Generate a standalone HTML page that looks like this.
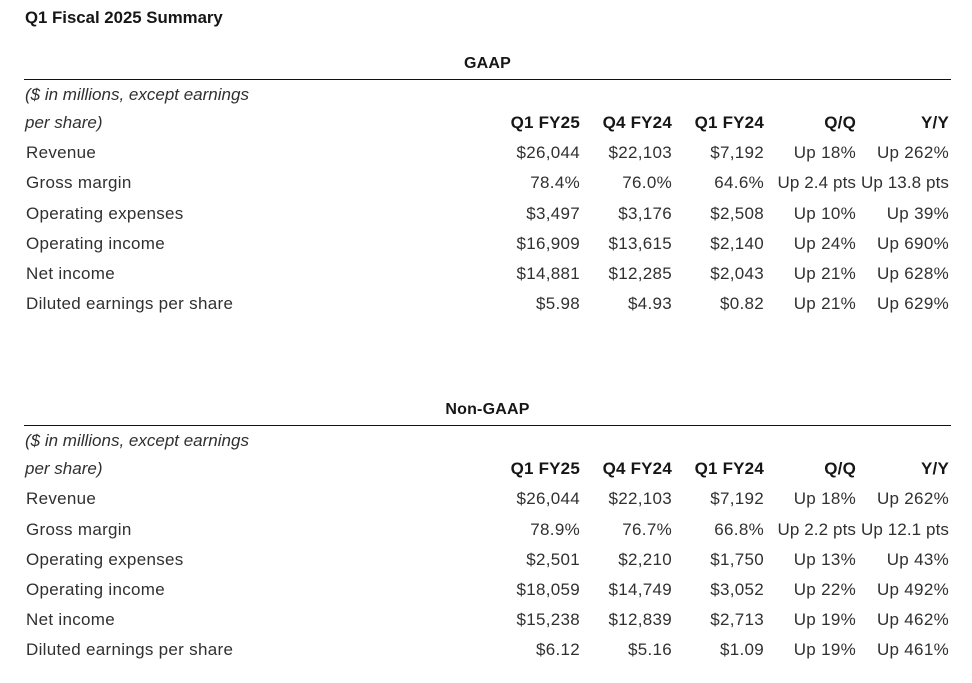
<!DOCTYPE html>
<html>
<head>
<meta charset="utf-8">
<style>
html,body{margin:0;padding:0;background:#fff;}
body{width:972px;height:683px;position:relative;overflow:hidden;font-family:"Liberation Sans",sans-serif;color:#303030;}
.t{position:absolute;white-space:nowrap;line-height:20px;font-size:17px;letter-spacing:0.3px;}
.b{font-weight:bold;color:#161616;letter-spacing:0.2px;}
.i{font-style:italic;letter-spacing:0;}
.r{text-align:right;}
.line{position:absolute;left:24px;width:927px;height:1px;background:#111;}
.c1{right:392px;} .c2{right:300px;} .c3{right:208px;} .c4{right:116px;} .c5{right:23px;}
</style>
</head>
<body>
<div class="t b" style="left:25px;top:8px;font-size:16.8px;letter-spacing:0;">Q1 Fiscal 2025 Summary</div>

<!-- GAAP -->
<div class="t b" style="left:0;width:975px;text-align:center;top:54px;font-size:16px;">GAAP</div>
<div class="line" style="top:79px;"></div>
<div class="t i" style="left:25px;top:85px;">($ in millions, except earnings</div>
<div class="t i" style="left:25px;top:113px;">per share)</div>
<div class="t b c1" style="top:113px;">Q1 FY25</div>
<div class="t b c2" style="top:113px;">Q4 FY24</div>
<div class="t b c3" style="top:113px;">Q1 FY24</div>
<div class="t b c4" style="top:113px;">Q/Q</div>
<div class="t b c5" style="top:113px;">Y/Y</div>

<div class="t" style="left:26px;top:143px;">Revenue</div>
<div class="t c1" style="top:143px;">$26,044</div>
<div class="t c2" style="top:143px;">$22,103</div>
<div class="t c3" style="top:143px;">$7,192</div>
<div class="t c4" style="top:143px;">Up 18%</div>
<div class="t c5" style="top:143px;">Up 262%</div>

<div class="t" style="left:26px;top:173px;">Gross margin</div>
<div class="t c1" style="top:173px;">78.4%</div>
<div class="t c2" style="top:173px;">76.0%</div>
<div class="t c3" style="top:173px;">64.6%</div>
<div class="t c4" style="top:173px;letter-spacing:0.1px;">Up 2.4 pts</div>
<div class="t c5" style="top:173px;letter-spacing:0.1px;">Up 13.8 pts</div>

<div class="t" style="left:26px;top:204px;">Operating expenses</div>
<div class="t c1" style="top:204px;">$3,497</div>
<div class="t c2" style="top:204px;">$3,176</div>
<div class="t c3" style="top:204px;">$2,508</div>
<div class="t c4" style="top:204px;">Up 10%</div>
<div class="t c5" style="top:204px;">Up 39%</div>

<div class="t" style="left:26px;top:234px;">Operating income</div>
<div class="t c1" style="top:234px;">$16,909</div>
<div class="t c2" style="top:234px;">$13,615</div>
<div class="t c3" style="top:234px;">$2,140</div>
<div class="t c4" style="top:234px;">Up 24%</div>
<div class="t c5" style="top:234px;">Up 690%</div>

<div class="t" style="left:26px;top:264px;">Net income</div>
<div class="t c1" style="top:264px;">$14,881</div>
<div class="t c2" style="top:264px;">$12,285</div>
<div class="t c3" style="top:264px;">$2,043</div>
<div class="t c4" style="top:264px;">Up 21%</div>
<div class="t c5" style="top:264px;">Up 628%</div>

<div class="t" style="left:26px;top:294px;">Diluted earnings per share</div>
<div class="t c1" style="top:294px;">$5.98</div>
<div class="t c2" style="top:294px;">$4.93</div>
<div class="t c3" style="top:294px;">$0.82</div>
<div class="t c4" style="top:294px;">Up 21%</div>
<div class="t c5" style="top:294px;">Up 629%</div>

<!-- Non-GAAP -->
<div class="t b" style="left:0;width:975px;text-align:center;top:400px;font-size:16px;">Non-GAAP</div>
<div class="line" style="top:425px;"></div>
<div class="t i" style="left:25px;top:431px;">($ in millions, except earnings</div>
<div class="t i" style="left:25px;top:459px;">per share)</div>
<div class="t b c1" style="top:459px;">Q1 FY25</div>
<div class="t b c2" style="top:459px;">Q4 FY24</div>
<div class="t b c3" style="top:459px;">Q1 FY24</div>
<div class="t b c4" style="top:459px;">Q/Q</div>
<div class="t b c5" style="top:459px;">Y/Y</div>

<div class="t" style="left:26px;top:489px;">Revenue</div>
<div class="t c1" style="top:489px;">$26,044</div>
<div class="t c2" style="top:489px;">$22,103</div>
<div class="t c3" style="top:489px;">$7,192</div>
<div class="t c4" style="top:489px;">Up 18%</div>
<div class="t c5" style="top:489px;">Up 262%</div>

<div class="t" style="left:26px;top:520px;">Gross margin</div>
<div class="t c1" style="top:520px;">78.9%</div>
<div class="t c2" style="top:520px;">76.7%</div>
<div class="t c3" style="top:520px;">66.8%</div>
<div class="t c4" style="top:520px;letter-spacing:0.1px;">Up 2.2 pts</div>
<div class="t c5" style="top:520px;letter-spacing:0.1px;">Up 12.1 pts</div>

<div class="t" style="left:26px;top:550px;">Operating expenses</div>
<div class="t c1" style="top:550px;">$2,501</div>
<div class="t c2" style="top:550px;">$2,210</div>
<div class="t c3" style="top:550px;">$1,750</div>
<div class="t c4" style="top:550px;">Up 13%</div>
<div class="t c5" style="top:550px;">Up 43%</div>

<div class="t" style="left:26px;top:580px;">Operating income</div>
<div class="t c1" style="top:580px;">$18,059</div>
<div class="t c2" style="top:580px;">$14,749</div>
<div class="t c3" style="top:580px;">$3,052</div>
<div class="t c4" style="top:580px;">Up 22%</div>
<div class="t c5" style="top:580px;">Up 492%</div>

<div class="t" style="left:26px;top:610px;">Net income</div>
<div class="t c1" style="top:610px;">$15,238</div>
<div class="t c2" style="top:610px;">$12,839</div>
<div class="t c3" style="top:610px;">$2,713</div>
<div class="t c4" style="top:610px;">Up 19%</div>
<div class="t c5" style="top:610px;">Up 462%</div>

<div class="t" style="left:26px;top:640px;">Diluted earnings per share</div>
<div class="t c1" style="top:640px;">$6.12</div>
<div class="t c2" style="top:640px;">$5.16</div>
<div class="t c3" style="top:640px;">$1.09</div>
<div class="t c4" style="top:640px;">Up 19%</div>
<div class="t c5" style="top:640px;">Up 461%</div>
</body>
</html>
